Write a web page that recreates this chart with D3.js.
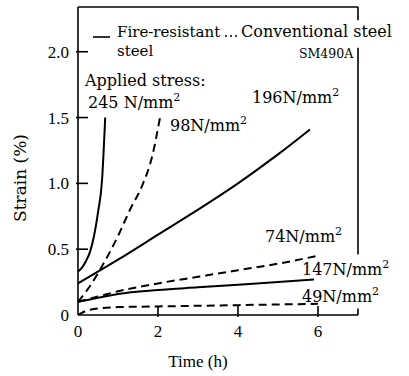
<!DOCTYPE html>
<html>
	<head>
		<meta charset="UTF-8" />
		<title>Creep strain</title>
		<script src="https://cdn.jsdelivr.net/npm/d3@7"></script>
		<style>
			body {
				margin: 0;
				background: #fff;
			}
			svg {
				font-family: "Liberation Serif", serif;
				font-size: 17px;
			}
			.note {
				font-family: "DejaVu Serif", serif;
				font-size: 16px;
			}
		</style>
	</head>
	<body>
		<svg width="409" height="376"></svg>

		<script>
			// strain (%) against time (h), one array per applied stress
			const fire245 = [[0, 0.33], [0.1, 0.36], [0.2, 0.41], [0.3, 0.48], [0.4, 0.6], [0.5, 0.78], [0.6, 1.02], [0.68, 1.5]];
			const fire196 = [[0, 0.24], [1, 0.42], [2, 0.61], [3, 0.8], [4, 1.0], [5, 1.22], [5.8, 1.41]];
			const fire147 = [[0, 0.1], [0.5, 0.13], [1, 0.16], [2, 0.19], [3, 0.21], [4, 0.23], [5, 0.25], [5.9, 0.27]];
			const conv98 = [[0, 0.1], [0.3, 0.22], [0.6, 0.37], [1.0, 0.6], [1.3, 0.8], [1.6, 0.98], [1.85, 1.2], [2.05, 1.5]];
			const conv74 = [[0, 0.1], [0.5, 0.14], [1, 0.18], [2, 0.24], [3, 0.29], [4, 0.34], [5, 0.39], [6, 0.45]];
			const conv49 = [[0, 0.0], [0.3, 0.04], [1, 0.06], [2, 0.065], [3, 0.07], [4, 0.075], [5, 0.08], [6, 0.085]];

			const xTicks = [0, 2, 4, 6];
			const yTicks = [0, 0.5, 1.0, 1.5, 2.0];

			const series = [
				{ pts: fire245, dashed: false, label: "245 N/mm", at: [0.25, 1.573] },
				{ pts: conv98, dashed: true, label: "98N/mm", at: [2.3, 1.4] },
				{ pts: fire196, dashed: false, label: "196N/mm", at: [4.35, 1.61] },
				{ pts: conv74, dashed: true, label: "74N/mm", at: [4.675, 0.555] },
				{ pts: fire147, dashed: false, label: "147N/mm", at: [5.6, 0.304] },
				{ pts: conv49, dashed: true, label: "49N/mm", at: [5.6, 0.099] },
			];

			const svg = d3.select("svg");

			const x = d3.scaleLinear().domain([0, 7]).range([78, 358]);
			const y = d3.scaleLinear().domain([0, 2.34]).range([315, 7]);

			// frame
			const frame = svg.append("g").attr("stroke", "#000").attr("stroke-width", 1.6);
			frame.append("line").attr("x1", x(0)).attr("x2", x(0)).attr("y1", y(0)).attr("y2", y(2.34));
			frame.append("line").attr("x1", x(0)).attr("x2", x(7)).attr("y1", y(0)).attr("y2", y(0));
			frame.append("line").attr("x1", x(0)).attr("x2", x(7)).attr("y1", y(2.34)).attr("y2", y(2.34));
			// right side is broken by the labels
			[[2.34, 2.24], [2.03, 0.46], [0.05, 0]].forEach(([a, b]) => {
				frame.append("line").attr("x1", x(7)).attr("x2", x(7)).attr("y1", y(a)).attr("y2", y(b));
			});

			// ticks point inward
			frame
				.selectAll("line.yt")
				.data(yTicks.slice(1))
				.enter()
				.append("line")
				.attr("x1", x(0) - 2)
				.attr("x2", x(0) + 10)
				.attr("y1", (d) => y(d))
				.attr("y2", (d) => y(d));
			frame
				.selectAll("line.xt")
				.data(xTicks.slice(1))
				.enter()
				.append("line")
				.attr("x1", (d) => x(d))
				.attr("x2", (d) => x(d))
				.attr("y1", y(0) + 2)
				.attr("y2", y(0) - 9);

			svg
				.selectAll("text.yl")
				.data(yTicks)
				.enter()
				.append("text")
				.attr("x", x(0) - 9)
				.attr("y", (d) => y(d) + 6)
				.attr("text-anchor", "end")
				.text((d) => (d === 0 ? "0" : d.toFixed(1)));

			svg
				.selectAll("text.xl")
				.data(xTicks)
				.enter()
				.append("text")
				.attr("x", (d) => x(d))
				.attr("y", 337)
				.attr("text-anchor", "middle")
				.text((d) => d);

			svg.append("text").attr("x", 198).attr("y", 367).attr("text-anchor", "middle").text("Time (h)");
			svg
				.append("text")
				.attr("class", "note")
				.attr("transform", "translate(26,178) rotate(-90)")
				.attr("text-anchor", "middle")
				.style("font-size", "17px")
				.text("Strain (%)");

			// curves
			const line = d3
				.line()
				.x((d) => x(d[0]))
				.y((d) => y(d[1]))
				.curve(d3.curveMonotoneX);

			svg
				.selectAll("path.curve")
				.data(series)
				.enter()
				.append("path")
				.attr("d", (d) => line(d.pts))
				.attr("fill", "none")
				.attr("stroke", "#000")
				.attr("stroke-width", 2)
				.attr("stroke-dasharray", (d) => (d.dashed ? "8,5" : null));

			const labels = svg
				.selectAll("text.stress")
				.data(series)
				.enter()
				.append("text")
				.attr("class", "note")
				.attr("x", (d) => x(d.at[0]))
				.attr("y", (d) => y(d.at[1]));
			labels.append("tspan").text((d) => d.label);
			labels.append("tspan").attr("dy", -7).attr("font-size", 11).text("2");

			svg.append("text").attr("class", "note").attr("x", 85).attr("y", 86).text("Applied stress:");

			// legend
			svg.append("line").attr("x1", 93).attr("x2", 110).attr("y1", 37).attr("y2", 37).attr("stroke", "#000").attr("stroke-width", 1.6);
			svg.append("text").attr("class", "note").attr("x", 117).attr("y", 37).style("font-size", "15px").text("Fire-resistant");
			svg.append("text").attr("class", "note").attr("x", 117).attr("y", 56).style("font-size", "15px").text("steel");
			svg
				.append("line")
				.attr("x1", 225)
				.attr("x2", 238)
				.attr("y1", 36)
				.attr("y2", 36)
				.attr("stroke", "#000")
				.attr("stroke-width", 1.6)
				.attr("stroke-dasharray", "2,3");
			svg.append("text").attr("class", "note").attr("x", 241).attr("y", 37).text("Conventional steel");
			svg.append("text").attr("class", "note").attr("x", 299).attr("y", 58).style("font-size", "12.5px").text("SM490A");
		</script>
	</body>
</html>
